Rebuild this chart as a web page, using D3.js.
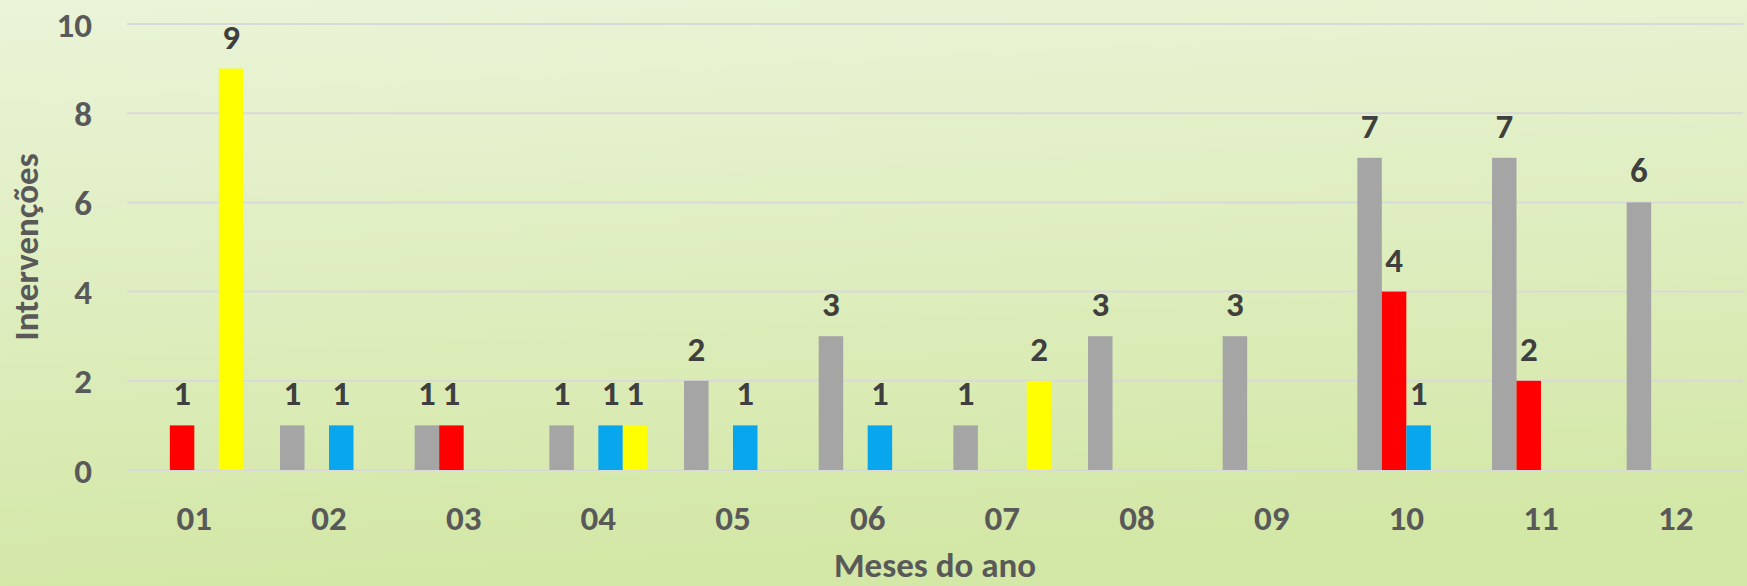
<!DOCTYPE html>
<html>
<head>
	<meta charset="utf-8" />
	<title>Intervenções por mês</title>
	<script src="https://d3js.org/d3.v7.min.js"></script>
	<style type="text/css">
		html, body { margin: 0; padding: 0; overflow: hidden; }
		text { font-family: Carlito, Lato, "Open Sans", sans-serif; font-weight: bold; }
	</style>
</head>
<body>
	<div id="chart"></div>
	<script>
		// data
		const months = ["01", "02", "03", "04", "05", "06", "07", "08", "09", "10", "11", "12"];
		const seriesNames = ["cinzento", "vermelho", "azul", "amarelo"];
		const seriesColors = ["#a5a5a5", "#ff0000", "#08a6ec", "#ffff00"];
		const grayValues   = [0, 1, 1, 1, 2, 3, 1, 3, 3, 7, 7, 6];
		const redValues    = [1, 0, 1, 0, 0, 0, 0, 0, 0, 4, 2, 0];
		const blueValues   = [0, 1, 0, 1, 1, 1, 0, 0, 0, 1, 0, 0];
		const yellowValues = [9, 0, 0, 1, 0, 0, 2, 0, 0, 0, 0, 0];
		const yTicks = [0, 2, 4, 6, 8, 10];
		const yTitle = "Intervenções";
		const xTitle = "Meses do ano";

		const allValues = [grayValues, redValues, blueValues, yellowValues];

		const width = 1747;
		const height = 586;
		const plot = { left: 127, right: 1743, top: 24, bottom: 470 };
		const fontSize = "35px";

		const svg = d3.select("#chart")
			.append("svg")
			.attr("width", width)
			.attr("height", height);

		const grad = svg.append("defs").append("linearGradient")
			.attr("id", "bg")
			.attr("x1", "0").attr("y1", "0")
			.attr("x2", "0.15").attr("y2", "1");
		grad.append("stop").attr("offset", "0%").attr("stop-color", "#eaf4d8");
		grad.append("stop").attr("offset", "100%").attr("stop-color", "#d3e7a6");

		svg.append("rect")
			.attr("width", width)
			.attr("height", height)
			.attr("fill", "url(#bg)");

		const x0 = d3.scaleBand()
			.domain(months)
			.range([plot.left, plot.right]);

		// 150% gap width: four bars + 1.5 bar of gap per month
		const barW = x0.bandwidth() / 5.5;
		const x1 = d3.scaleBand()
			.domain(seriesNames)
			.range([0.75 * barW, x0.bandwidth() - 0.75 * barW]);

		const y = d3.scaleLinear()
			.domain([0, 10])
			.range([plot.bottom, plot.top]);

		// gridlines
		svg.append("g")
			.selectAll("line")
			.data(yTicks)
			.enter()
			.append("line")
			.attr("x1", plot.left)
			.attr("x2", plot.right)
			.attr("y1", (d) => y(d))
			.attr("y2", (d) => y(d))
			.attr("stroke", "#d9d9d9")
			.attr("stroke-width", 2);

		// y tick labels
		svg.append("g")
			.selectAll("text")
			.data(yTicks)
			.enter()
			.append("text")
			.attr("x", 92)
			.attr("y", (d) => y(d))
			.attr("dy", "0.36em")
			.attr("text-anchor", "end")
			.attr("fill", "#595959")
			.style("font-size", fontSize)
			.text((d) => d);

		// x tick labels
		svg.append("g")
			.selectAll("text")
			.data(months)
			.enter()
			.append("text")
			.attr("x", (d) => x0(d) + x0.bandwidth() / 2)
			.attr("y", 530)
			.attr("text-anchor", "middle")
			.attr("fill", "#595959")
			.style("font-size", fontSize)
			.text((d) => d);

		// bars
		const bars = [];
		months.forEach((m, i) => {
			seriesNames.forEach((s, j) => {
				bars.push({ month: m, series: s, color: seriesColors[j], value: allValues[j][i] });
			});
		});
		const shown = bars.filter((d) => d.value > 0);

		svg.append("g")
			.selectAll("rect")
			.data(shown)
			.enter()
			.append("rect")
			.attr("x", (d) => x0(d.month) + x1(d.series))
			.attr("y", (d) => y(d.value))
			.attr("width", x1.bandwidth())
			.attr("height", (d) => y(0) - y(d.value))
			.attr("fill", (d) => d.color);

		// data labels
		svg.append("g")
			.selectAll("text")
			.data(shown)
			.enter()
			.append("text")
			.attr("x", (d) => x0(d.month) + x1(d.series) + x1.bandwidth() / 2)
			.attr("y", (d) => y(d.value) - 20)
			.attr("text-anchor", "middle")
			.attr("fill", "#3f3f3f")
			.style("font-size", fontSize)
			.text((d) => d.value);

		// axis titles
		svg.append("text")
			.attr("transform", "translate(38," + ((plot.top + plot.bottom) / 2) + ") rotate(-90)")
			.attr("text-anchor", "middle")
			.attr("fill", "#595959")
			.style("font-size", fontSize)
			.text(yTitle);

		svg.append("text")
			.attr("x", (plot.left + plot.right) / 2)
			.attr("y", 577)
			.attr("text-anchor", "middle")
			.attr("fill", "#595959")
			.style("font-size", fontSize)
			.text(xTitle);
	</script>
</body>
</html>
